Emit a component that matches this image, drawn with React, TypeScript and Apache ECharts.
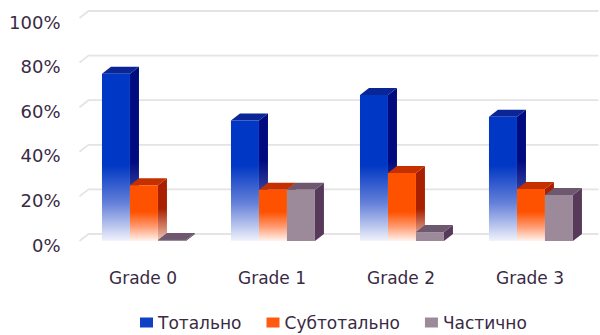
import React, { useEffect, useRef } from "react";
import * as echarts from "echarts";

const categories = ["Grade 0", "Grade 1", "Grade 2", "Grade 3"];
const seriesNames = ["Тотально", "Субтотально", "Частично"];
const totalValues = [75, 54, 65.5, 55.7];
const subtotalValues = [25, 23, 30.5, 23.3];
const partialValues = [0.5, 23, 4, 20.6];
const yTicks = [0, 20, 40, 60, 80, 100];

const DX = 9;
const DY = -7;

type Pal = {
  front: string;
  frontMid: string;
  frontBottom: string;
  side: string;
  sideBottom: string;
  top: string;
  fadeFrom: number | null;
};

const palettes: Pal[] = [
  { front: "#0037c4", frontMid: "#6580d8", frontBottom: "#f1f3fc", side: "#000b80", sideBottom: "#8c96d0", top: "#0a2596", fadeFrom: 34 },
  { front: "#ff5200", frontMid: "#ff9a70", frontBottom: "#fff4ee", side: "#a82000", sideBottom: "#f0c8b8", top: "#c43000", fadeFrom: 13 },
  { front: "#9c8a9b", frontMid: "#9c8a9b", frontBottom: "#9c8a9b", side: "#573a5a", sideBottom: "#573a5a", top: "#6e5870", fadeFrom: null },
];

function makeBarRender(si: number) {
  const pal = palettes[si];
  return (params: any, api: any) => {
    const cat = api.value(0);
    const val = api.value(1);
    const top = api.coord([cat, val]);
    const base = api.coord([cat, 0]);
    const band = api.size([1, 0])[0];
    const w = band * 0.217;
    const x = top[0] - band * 0.318 + si * w;
    const yTop = top[1];
    const yBot = base[1];
    const h = Math.max(yBot - yTop, 0.01);
    let stops;
    let sideStops;
    if (pal.fadeFrom !== null) {
      const fy = api.coord([cat, pal.fadeFrom])[1];
      const f0 = Math.min(Math.max((fy - yTop) / h, 0), 1);
      stops = [
        { offset: 0, color: pal.front },
        { offset: f0, color: pal.front },
        { offset: f0 + (1 - f0) * 0.5, color: pal.frontMid },
        { offset: 1, color: pal.frontBottom },
      ];
      sideStops = [
        { offset: 0, color: pal.side },
        { offset: f0, color: pal.side },
        { offset: 1, color: pal.sideBottom },
      ];
    } else {
      stops = [
        { offset: 0, color: pal.front },
        { offset: 1, color: pal.front },
      ];
      sideStops = [
        { offset: 0, color: pal.side },
        { offset: 1, color: pal.side },
      ];
    }
    return {
      type: "group",
      children: [
        {
          type: "polygon",
          shape: {
            points: [
              [x + w, yTop],
              [x + w + DX, yTop + DY],
              [x + w + DX, yBot + DY],
              [x + w, yBot],
            ],
          },
          style: {
            fill: { type: "linear", x: 0, y: 0, x2: 0, y2: 1, colorStops: sideStops },
          },
        },
        {
          type: "polygon",
          shape: {
            points: [
              [x, yTop],
              [x + DX, yTop + DY],
              [x + w + DX, yTop + DY],
              [x + w, yTop],
            ],
          },
          style: { fill: pal.top },
        },
        {
          type: "rect",
          shape: { x: x, y: yTop, width: w, height: h },
          style: {
            fill: { type: "linear", x: 0, y: 0, x2: 0, y2: 1, colorStops: stops },
          },
        },
      ],
    };
  };
}

function gridRender(params: any, api: any) {
  const v = api.value(1);
  const p = api.coord([0, v]);
  const cs = params.coordSys;
  const xl = cs.x + 1;
  const xr = cs.x + cs.width + 4;
  const y = p[1];
  return {
    type: "polyline",
    shape: {
      points: [
        [xl, y],
        [xl + DX, y + DY],
        [xr, y + DY],
      ],
    },
    style: { stroke: "#e4e4e4", lineWidth: 1.8, fill: null },
  };
}

export default function App() {
  const ref = useRef<HTMLDivElement>(null);
  useEffect(() => {
    if (!ref.current) return;
    const chart = echarts.init(ref.current, null, { renderer: "svg" });
    const valueSets = [totalValues, subtotalValues, partialValues];
    const legendColors = ["#1040c4", "#ff5a10", "#9c8a9b"];
    chart.setOption({
      animation: false,
      backgroundColor: "#ffffff",
      grid: { left: 78.5, right: 5.5, top: 18, bottom: 94 },
      legend: {
        data: seriesNames.map((n) => ({ name: n, icon: "rect" })),
        left: 140,
        top: 314,
        padding: 0,
        itemWidth: 13,
        itemHeight: 10,
        itemGap: 25,
        textStyle: { fontFamily: "DejaVu Sans", fontSize: 17, color: "#3a2a44" },
      },
      xAxis: {
        type: "category",
        data: categories,
        axisLine: { show: false },
        axisTick: { show: false },
        splitLine: { show: false },
        axisLabel: { margin: 28, fontFamily: "DejaVu Sans", fontSize: 17, color: "#3a2a44" },
      },
      yAxis: {
        type: "value",
        min: 0,
        max: 100,
        interval: 20,
        axisLine: { show: false },
        axisTick: { show: false },
        splitLine: { show: false },
        axisLabel: {
          formatter: "{v|{value}%}",
          margin: 18,
          rich: {
            v: {
              fontFamily: "DejaVu Sans",
              fontSize: 18,
              color: "#3a2a44",
              padding: [8, 0, 0, 0],
            },
          },
        },
      },
      series: [
        {
          type: "custom",
          name: "grid",
          renderItem: gridRender,
          data: yTicks.map((t) => [0, t]),
          silent: true,
          z: 0,
        },
        ...valueSets.map((vals, si) => ({
          type: "custom",
          name: seriesNames[si],
          renderItem: makeBarRender(si),
          itemStyle: { color: legendColors[si] },
          data: vals.map((v, i) => [i, v]),
          z: 2,
        })),
      ],
    });
    return () => chart.dispose();
  }, []);
  return (
    <div
      ref={ref}
      style={{ position: "fixed", left: 0, top: 0, width: 600, height: 335 }}
    />
  );
}
